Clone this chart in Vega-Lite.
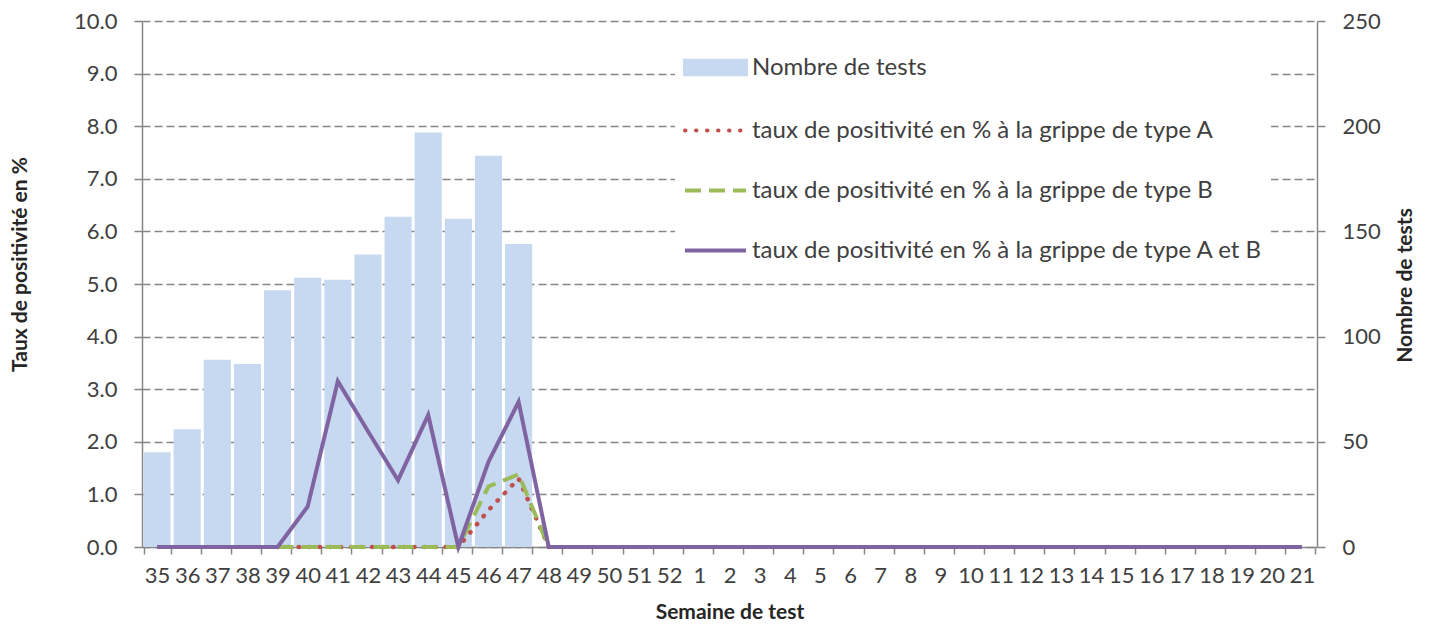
{
  "$schema": "https://vega.github.io/schema/vega-lite/v6.json",
  "width": 1175,
  "height": 526,
  "autosize": "none",
  "padding": {"left": 142, "top": 21, "right": 118, "bottom": 82},
  "background": "white",
  "config": {
    "font": "Lato",
    "view": {"stroke": null},
    "axis": {
      "labelFont": "Lato",
      "labelFontSize": 22,
      "labelColor": "#404040",
      "titleFont": "Lato",
      "titleFontSize": 21,
      "titleFontWeight": "bold",
      "titleColor": "#262626",
      "domainColor": "#868686",
      "domainWidth": 1.5,
      "tickColor": "#868686",
      "tickWidth": 1.5
    }
  },
  "data": {
    "values": [
      {"semaine": "35", "serie": "Nombre de tests", "valeur": 45},
      {"semaine": "36", "serie": "Nombre de tests", "valeur": 56},
      {"semaine": "37", "serie": "Nombre de tests", "valeur": 89},
      {"semaine": "38", "serie": "Nombre de tests", "valeur": 87},
      {"semaine": "39", "serie": "Nombre de tests", "valeur": 122},
      {"semaine": "40", "serie": "Nombre de tests", "valeur": 128},
      {"semaine": "41", "serie": "Nombre de tests", "valeur": 127},
      {"semaine": "42", "serie": "Nombre de tests", "valeur": 139},
      {"semaine": "43", "serie": "Nombre de tests", "valeur": 157},
      {"semaine": "44", "serie": "Nombre de tests", "valeur": 197},
      {"semaine": "45", "serie": "Nombre de tests", "valeur": 156},
      {"semaine": "46", "serie": "Nombre de tests", "valeur": 186},
      {"semaine": "47", "serie": "Nombre de tests", "valeur": 144},

      {"semaine": "39", "serie": "taux de positivité en % à la grippe de type A", "valeur": 0},
      {"semaine": "40", "serie": "taux de positivité en % à la grippe de type A", "valeur": 0},
      {"semaine": "41", "serie": "taux de positivité en % à la grippe de type A", "valeur": 0},
      {"semaine": "42", "serie": "taux de positivité en % à la grippe de type A", "valeur": 0},
      {"semaine": "43", "serie": "taux de positivité en % à la grippe de type A", "valeur": 0},
      {"semaine": "44", "serie": "taux de positivité en % à la grippe de type A", "valeur": 0},
      {"semaine": "45", "serie": "taux de positivité en % à la grippe de type A", "valeur": 0},
      {"semaine": "46", "serie": "taux de positivité en % à la grippe de type A", "valeur": 0.7},
      {"semaine": "47", "serie": "taux de positivité en % à la grippe de type A", "valeur": 1.3},
      {"semaine": "48", "serie": "taux de positivité en % à la grippe de type A", "valeur": 0},

      {"semaine": "39", "serie": "taux de positivité en % à la grippe de type B", "valeur": 0},
      {"semaine": "40", "serie": "taux de positivité en % à la grippe de type B", "valeur": 0},
      {"semaine": "41", "serie": "taux de positivité en % à la grippe de type B", "valeur": 0},
      {"semaine": "42", "serie": "taux de positivité en % à la grippe de type B", "valeur": 0},
      {"semaine": "43", "serie": "taux de positivité en % à la grippe de type B", "valeur": 0},
      {"semaine": "44", "serie": "taux de positivité en % à la grippe de type B", "valeur": 0},
      {"semaine": "45", "serie": "taux de positivité en % à la grippe de type B", "valeur": 0},
      {"semaine": "46", "serie": "taux de positivité en % à la grippe de type B", "valeur": 1.15},
      {"semaine": "47", "serie": "taux de positivité en % à la grippe de type B", "valeur": 1.38},
      {"semaine": "48", "serie": "taux de positivité en % à la grippe de type B", "valeur": 0},

      {"semaine": "35", "serie": "taux de positivité en % à la grippe de type A et B", "valeur": 0},
      {"semaine": "36", "serie": "taux de positivité en % à la grippe de type A et B", "valeur": 0},
      {"semaine": "37", "serie": "taux de positivité en % à la grippe de type A et B", "valeur": 0},
      {"semaine": "38", "serie": "taux de positivité en % à la grippe de type A et B", "valeur": 0},
      {"semaine": "39", "serie": "taux de positivité en % à la grippe de type A et B", "valeur": 0},
      {"semaine": "40", "serie": "taux de positivité en % à la grippe de type A et B", "valeur": 0.77},
      {"semaine": "41", "serie": "taux de positivité en % à la grippe de type A et B", "valeur": 3.15},
      {"semaine": "42", "serie": "taux de positivité en % à la grippe de type A et B", "valeur": 2.2},
      {"semaine": "43", "serie": "taux de positivité en % à la grippe de type A et B", "valeur": 1.27},
      {"semaine": "44", "serie": "taux de positivité en % à la grippe de type A et B", "valeur": 2.51},
      {"semaine": "45", "serie": "taux de positivité en % à la grippe de type A et B", "valeur": 0},
      {"semaine": "46", "serie": "taux de positivité en % à la grippe de type A et B", "valeur": 1.62},
      {"semaine": "47", "serie": "taux de positivité en % à la grippe de type A et B", "valeur": 2.76},
      {"semaine": "48", "serie": "taux de positivité en % à la grippe de type A et B", "valeur": 0},
      {"semaine": "49", "serie": "taux de positivité en % à la grippe de type A et B", "valeur": 0},
      {"semaine": "50", "serie": "taux de positivité en % à la grippe de type A et B", "valeur": 0},
      {"semaine": "51", "serie": "taux de positivité en % à la grippe de type A et B", "valeur": 0},
      {"semaine": "52", "serie": "taux de positivité en % à la grippe de type A et B", "valeur": 0},
      {"semaine": "1", "serie": "taux de positivité en % à la grippe de type A et B", "valeur": 0},
      {"semaine": "2", "serie": "taux de positivité en % à la grippe de type A et B", "valeur": 0},
      {"semaine": "3", "serie": "taux de positivité en % à la grippe de type A et B", "valeur": 0},
      {"semaine": "4", "serie": "taux de positivité en % à la grippe de type A et B", "valeur": 0},
      {"semaine": "5", "serie": "taux de positivité en % à la grippe de type A et B", "valeur": 0},
      {"semaine": "6", "serie": "taux de positivité en % à la grippe de type A et B", "valeur": 0},
      {"semaine": "7", "serie": "taux de positivité en % à la grippe de type A et B", "valeur": 0},
      {"semaine": "8", "serie": "taux de positivité en % à la grippe de type A et B", "valeur": 0},
      {"semaine": "9", "serie": "taux de positivité en % à la grippe de type A et B", "valeur": 0},
      {"semaine": "10", "serie": "taux de positivité en % à la grippe de type A et B", "valeur": 0},
      {"semaine": "11", "serie": "taux de positivité en % à la grippe de type A et B", "valeur": 0},
      {"semaine": "12", "serie": "taux de positivité en % à la grippe de type A et B", "valeur": 0},
      {"semaine": "13", "serie": "taux de positivité en % à la grippe de type A et B", "valeur": 0},
      {"semaine": "14", "serie": "taux de positivité en % à la grippe de type A et B", "valeur": 0},
      {"semaine": "15", "serie": "taux de positivité en % à la grippe de type A et B", "valeur": 0},
      {"semaine": "16", "serie": "taux de positivité en % à la grippe de type A et B", "valeur": 0},
      {"semaine": "17", "serie": "taux de positivité en % à la grippe de type A et B", "valeur": 0},
      {"semaine": "18", "serie": "taux de positivité en % à la grippe de type A et B", "valeur": 0},
      {"semaine": "19", "serie": "taux de positivité en % à la grippe de type A et B", "valeur": 0},
      {"semaine": "20", "serie": "taux de positivité en % à la grippe de type A et B", "valeur": 0},
      {"semaine": "21", "serie": "taux de positivité en % à la grippe de type A et B", "valeur": 0}
    ]
  },
  "encoding": {
    "x": {
      "field": "semaine",
      "type": "ordinal",
      "scale": {
        "domain": ["35","36","37","38","39","40","41","42","43","44","45","46","47","48","49","50","51","52","1","2","3","4","5","6","7","8","9","10","11","12","13","14","15","16","17","18","19","20","21"],
        "paddingInner": 0.1,
        "paddingOuter": 0.05
      },
      "axis": {
        "title": "Semaine de test",
        "labelAngle": 0,
        "tickBand": "extent",
        "tickSize": 7,
        "labelPadding": 11,
        "titleY": 65,
        "titleBaseline": "middle",
        "grid": false
      }
    },
    "color": {
      "field": "serie",
      "type": "nominal",
      "scale": {
        "domain": ["Nombre de tests", "taux de positivité en % à la grippe de type A", "taux de positivité en % à la grippe de type B", "taux de positivité en % à la grippe de type A et B"],
        "range": ["#c6d9f0", "#c0504d", "#9bbb59", "#8064a2"]
      },
      "legend": {
        "orient": "none",
        "legendX": 533,
        "legendY": 6,
        "title": null,
        "direction": "vertical",
        "fillColor": "white",
        "padding": 8,
        "labelFont": "Lato",
        "labelFontSize": 24,
        "labelColor": "#404040",
        "labelOffset": 4,
        "labelLimit": 800,
        "rowPadding": 15,
        "symbolSize": 3721,
        "encode": {
          "symbols": {
            "update": {
              "size": {"value": 3721},
              "shape": [
                {"test": "datum.value === 'Nombre de tests'", "value": "M-1,-0.22H1V0.22H-1Z"},
                {"value": "M-1,0H1"}
              ],
              "fill": [
                {"test": "datum.value === 'Nombre de tests'", "value": "#c6d9f0"},
                {"value": "transparent"}
              ],
              "stroke": [
                {"test": "datum.value === 'Nombre de tests'", "value": "transparent"},
                {"test": "datum.value === 'taux de positivité en % à la grippe de type A'", "value": "#c0504d"},
                {"test": "datum.value === 'taux de positivité en % à la grippe de type B'", "value": "#9bbb59"},
                {"value": "#8064a2"}
              ],
              "strokeWidth": {"value": 4},
              "strokeCap": [
                {"test": "datum.value === 'taux de positivité en % à la grippe de type A'", "value": "round"},
                {"value": "butt"}
              ],
              "strokeDash": [
                {"test": "datum.value === 'taux de positivité en % à la grippe de type A'", "value": [0.5, 10.5]},
                {"test": "datum.value === 'taux de positivité en % à la grippe de type B'", "value": [16, 8]},
                {"value": []}
              ],
              "opacity": {"value": 1}
            }
          }
        }
      }
    }
  },
  "layer": [
    {
      "transform": [{"filter": "datum.serie === 'Nombre de tests'"}],
      "mark": {"type": "bar"},
      "encoding": {
        "y": {
          "field": "valeur",
          "type": "quantitative",
          "scale": {"domain": [0, 250], "nice": false},
          "axis": {
            "orient": "right",
            "title": "Nombre de tests",
            "values": [0, 50, 100, 150, 200, 250],
            "grid": false,
            "tickSize": 8,
            "labelPadding": 17,
            "titleAngle": 270,
            "titleBaseline": "middle",
            "titleX": 88,
            "titleY": 264
          }
        }
      }
    },
    {
      "transform": [{"filter": "datum.serie !== 'Nombre de tests'"}],
      "layer": [
        {
          "transform": [{"filter": "datum.serie === 'taux de positivité en % à la grippe de type A'"}],
          "mark": {"type": "line", "strokeWidth": 4.5, "strokeDash": [0.5, 10], "strokeCap": "round"},
          "encoding": {
            "y": {
              "field": "valeur",
              "type": "quantitative",
              "scale": {"domain": [0, 10], "nice": false},
              "axis": {
                "orient": "left",
                "title": "Taux de positivité en %",
                "values": [0, 1, 2, 3, 4, 5, 6, 7, 8, 9, 10],
                "format": ".1f",
                "grid": true,
                "gridColor": "#868686",
                "gridDash": [8, 4],
                "gridWidth": 1.5,
                "tickSize": 8,
                "labelPadding": 17,
                "titleAngle": 270,
                "titleBaseline": "middle",
                "titleX": -122,
                "titleY": 243
              }
            }
          }
        },
        {
          "transform": [{"filter": "datum.serie === 'taux de positivité en % à la grippe de type B'"}],
          "mark": {"type": "line", "strokeWidth": 4, "strokeDash": [16, 8]},
          "encoding": {"y": {"field": "valeur", "type": "quantitative"}}
        },
        {
          "transform": [{"filter": "datum.serie === 'taux de positivité en % à la grippe de type A et B'"}],
          "mark": {"type": "line", "strokeWidth": 4},
          "encoding": {"y": {"field": "valeur", "type": "quantitative"}}
        }
      ]
    }
  ],
  "resolve": {"scale": {"y": "independent"}}
}
